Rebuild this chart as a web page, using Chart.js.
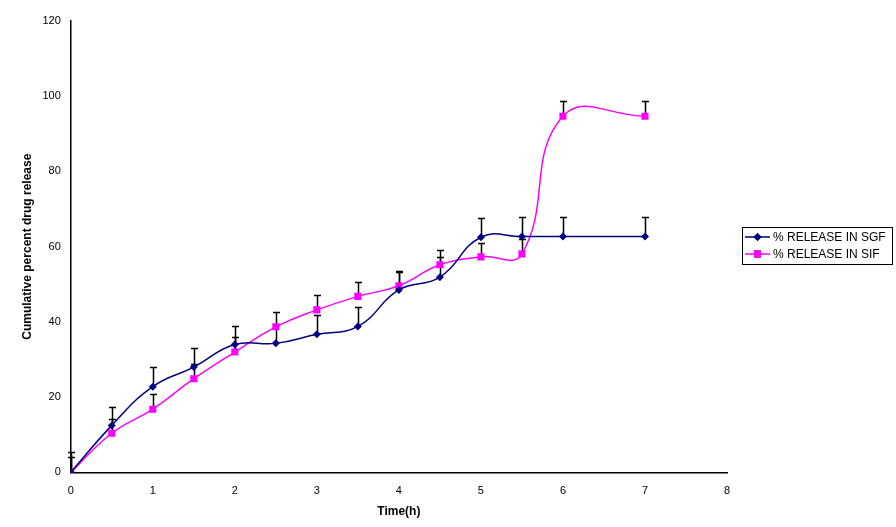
<!DOCTYPE html>
<html>
<head>
<meta charset="utf-8">
<script src="https://cdn.jsdelivr.net/npm/chart.js@4.4.1/dist/chart.umd.min.js"></script>
<style>
  html, body { margin: 0; padding: 0; background: #fff; }
  #wrap { width: 896px; height: 527px; }
</style>
</head>
<body>
<div id="wrap"><canvas id="myChart" width="896" height="527"></canvas></div>
<script>
// time points (h)
var times = [0, 0.5, 1, 1.5, 2, 2.5, 3, 3.5, 4, 4.5, 5, 5.5, 6, 7];
// cumulative % release
var sgf = [0, 12.5, 22.8, 28.0, 34.0, 34.3, 36.7, 38.8, 48.5, 51.9, 62.5, 62.7, 62.7, 62.7];
var sif = [0, 10.4, 16.8, 24.9, 32.0, 38.7, 43.2, 46.8, 49.6, 55.2, 57.3, 58.1, 94.7, 94.7];
// upper error (SD)
var sgfErr = [5.3, 5.0, 5.2, 5.0, 5.0, 5.0, 5.1, 5.1, 5.0, 5.3, 5.1, 5.3, 5.3, 5.3];
var sifErr = [4.0, 3.8, 4.1, 4.0, 4.0, 4.0, 4.0, 3.8, 3.8, 3.9, 3.8, 4.0, 3.9, 3.9];
var labels = ['% RELEASE IN SGF', '% RELEASE IN SIF'];

var FONT = '"Liberation Sans", Arial, sans-serif';

function pts(ys) {
    return times.map(function (t, i) { return { x: t, y: ys[i] }; });
}

// upper error bars, drawn with the chart's own scales
var errorBars = {
    id: 'errorBars',
    beforeDatasetsDraw: function (chart) {
        var ctx = chart.ctx;
        var xs = chart.scales.x, ys = chart.scales.y;
        var errs = [sgfErr, sifErr];
        var vals = [sgf, sif];
        ctx.save();
        ctx.strokeStyle = '#000';
        ctx.lineWidth = 1.5;
        for (var d = 0; d < 2; d++) {
            for (var i = 0; i < times.length; i++) {
                var px = Math.round(xs.getPixelForValue(times[i])) + 0.5;
                var y0 = ys.getPixelForValue(vals[d][i]);
                var y1 = Math.round(ys.getPixelForValue(vals[d][i] + errs[d][i])) + 0.5;
                ctx.beginPath();
                ctx.moveTo(px, y0);
                ctx.lineTo(px, y1);
                ctx.moveTo(px - 3.5, y1);
                ctx.lineTo(px + 3.5, y1);
                ctx.stroke();
            }
        }
        ctx.restore();
    }
};

// Excel-style boxed legend on the right
var boxLegend = {
    id: 'boxLegend',
    afterDraw: function (chart) {
        var ctx = chart.ctx;
        var sets = chart.data.datasets;
        ctx.save();
        ctx.strokeStyle = '#000';
        ctx.lineWidth = 1;
        ctx.strokeRect(742.5, 227.5, 150, 37);
        ctx.font = '12px ' + FONT;
        ctx.textBaseline = 'middle';
        for (var i = 0; i < sets.length; i++) {
            var y = 237 + i * 17;
            ctx.strokeStyle = sets[i].borderColor;
            ctx.lineWidth = 1.5;
            ctx.beginPath();
            ctx.moveTo(745, y);
            ctx.lineTo(770, y);
            ctx.stroke();
            Chart.helpers.drawPoint(ctx, {
                pointStyle: sets[i].pointStyle,
                radius: sets[i].pointRadius,
                borderWidth: 0
            }, 757.5, y);
            ctx.fillStyle = sets[i].backgroundColor;
            ctx.fill();
            ctx.fillStyle = '#000';
            ctx.fillText(labels[i], 773, y + 0.5);
        }
        ctx.restore();
    }
};

var ctx = document.getElementById('myChart').getContext('2d');
var chart = new Chart(ctx, {
    type: 'line',
    data: {
        datasets: [{
            label: labels[0],
            data: pts(sgf),
            borderColor: '#000080',
            backgroundColor: '#000080',
            borderWidth: 1.5,
            pointStyle: 'rectRot',
            pointRadius: 4,
            pointBorderWidth: 0,
            tension: 0.45
        }, {
            label: labels[1],
            data: pts(sif),
            borderColor: '#FF00FF',
            backgroundColor: '#FF00FF',
            borderWidth: 1.5,
            pointStyle: 'rect',
            pointRadius: 5,
            pointBorderWidth: 0,
            tension: 0.45
        }]
    },
    options: {
        responsive: false,
        animation: false,
        layout: { padding: { top: 21, right: 169, bottom: 4, left: 16 } },
        plugins: {
            legend: { display: false },
            tooltip: { enabled: false }
        },
        scales: {
            x: {
                type: 'linear',
                min: 0, max: 8,
                ticks: { stepSize: 1, padding: 7, color: '#000', font: { family: FONT, size: 11 } },
                grid: { display: false, drawTicks: true, tickLength: 5, tickColor: '#000' },
                border: { color: '#000', width: 1.5 },
                title: { display: true, text: 'Time(h)', color: '#000', font: { family: FONT, size: 12, weight: 'bold' }, padding: { top: 0, bottom: 4 } }
            },
            y: {
                min: 0, max: 120,
                ticks: { stepSize: 20, padding: 5, color: '#000', font: { family: FONT, size: 11 } },
                grid: { display: false, drawTicks: true, tickLength: 5, tickColor: '#000' },
                border: { color: '#000', width: 1.5 },
                title: { display: true, text: 'Cumulative percent drug release', color: '#000', font: { family: FONT, size: 12, weight: 'bold' }, padding: { top: 4, bottom: 3 } }
            }
        }
    },
    plugins: [errorBars, boxLegend]
});
</script>
</body>
</html>
